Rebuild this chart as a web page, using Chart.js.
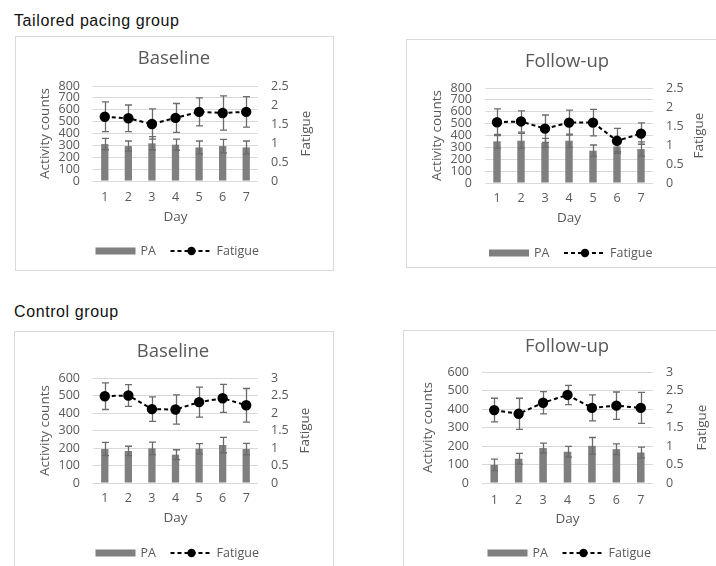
<!DOCTYPE html>
<html lang="en">
<head>
<meta charset="UTF-8">
<script src="https://cdn.jsdelivr.net/npm/chart.js@4.4.1/dist/chart.umd.min.js"></script>
<title>Activity and fatigue</title>
<style>
  html, body { margin: 0; padding: 0; background: #fff; }
  #page { position: relative; width: 716px; height: 566px; overflow: hidden; font-family: "Liberation Sans", Arial, sans-serif; }
  .group { position: absolute; left: 14px; font-size: 16px; line-height: 20px; letter-spacing: 0.6px; color: #111; }
  .frame { position: absolute; border: 1px solid #d9d9d9; box-sizing: border-box; }
  canvas { position: absolute; }
</style>
</head>
<body>
<div id="page">
  <div class="group" style="top:11px">Tailored pacing group</div>
  <div class="group" style="top:302px">Control group</div>

  <div class="frame" style="left:15px;top:36px;width:319px;height:235px"></div>
  <div class="frame" style="left:406px;top:39px;width:330px;height:229px"></div>
  <div class="frame" style="left:14px;top:331px;width:320px;height:260px"></div>
  <div class="frame" style="left:403px;top:330px;width:330px;height:260px"></div>

  <canvas id="c1"></canvas>
  <canvas id="c2"></canvas>
  <canvas id="c3"></canvas>
  <canvas id="c4"></canvas>
</div>

<script>
const days = ['1', '2', '3', '4', '5', '6', '7'];

// tailored pacing group, baseline
const paTailoredBase = [311, 294, 317, 306, 283, 294, 283];
const paTailoredBaseErr = [48, 43, 56, 47, 54, 57, 54];
const fatTailoredBase = [1.69, 1.65, 1.50, 1.66, 1.82, 1.79, 1.82];
const fatTailoredBaseErr = [0.39, 0.35, 0.40, 0.38, 0.37, 0.45, 0.40];

// tailored pacing group, follow-up
const paTailoredFollow = [351, 356, 339, 356, 272, 308, 286];
const paTailoredFollowErr = [58, 62, 37, 56, 48, 45, 60];
const fatTailoredFollow = [1.60, 1.62, 1.43, 1.59, 1.59, 1.11, 1.30];
const fatTailoredFollowErr = [0.35, 0.28, 0.36, 0.33, 0.35, 0.33, 0.28];

// control group, baseline
const paControlBase = [194, 183, 198, 162, 196, 217, 194];
const paControlBaseErr = [38, 27, 36, 28, 29, 44, 33];
const fatControlBase = [2.48, 2.50, 2.11, 2.10, 2.31, 2.42, 2.22];
const fatControlBaseErr = [0.38, 0.31, 0.35, 0.42, 0.43, 0.40, 0.48];

// control group, follow-up
const paControlFollow = [98, 131, 189, 169, 201, 183, 165];
const paControlFollowErr = [31, 29, 27, 29, 45, 29, 29];
const fatControlFollow = [1.97, 1.87, 2.17, 2.38, 2.03, 2.09, 2.03];
const fatControlFollowErr = [0.32, 0.42, 0.30, 0.26, 0.35, 0.37, 0.42];

const grey = '#595959';
const fam = '"Open Sans", "Liberation Sans", sans-serif';

function drawErr(chart, i) {
  const ds = chart.data.datasets[i];
  const meta = chart.getDatasetMeta(i);
  const scale = chart.scales[ds.yAxisID];
  const ctx = chart.ctx;
  ctx.save();
  ctx.strokeStyle = '#6b6b6b';
  ctx.lineWidth = 1.3;
  meta.data.forEach((el, j) => {
    const v = ds.data[j], e = ds.err[j];
    const x = Math.round(el.x) + 0.5;
    const y1 = scale.getPixelForValue(v + e);
    const y2 = scale.getPixelForValue(v - e);
    ctx.beginPath();
    ctx.moveTo(x, y1); ctx.lineTo(x, y2);
    ctx.moveTo(x - 3.5, y1); ctx.lineTo(x + 3.5, y1);
    ctx.moveTo(x - 3.5, y2); ctx.lineTo(x + 3.5, y2);
    ctx.stroke();
  });
  ctx.restore();
}

const errorBars = {
  id: 'errorBars',
  afterDatasetDraw(chart, args) { if (args.index === 0) drawErr(chart, 0); },
  beforeDatasetDraw(chart, args) { if (args.index === 1) drawErr(chart, 1); }
};

// axis titles and the legend, drawn like the Excel originals
const extras = {
  id: 'extras',
  afterDraw(chart, args, o) {
    const {ctx, chartArea: a} = chart;
    const cx = (a.left + a.right) / 2, cy = (a.top + a.bottom) / 2;
    ctx.save();
    ctx.fillStyle = grey;
    ctx.font = '13.5px ' + fam;
    ctx.textAlign = 'center';
    ctx.textBaseline = 'middle';
    ctx.fillText('Day', cx, o.dayY);
    [[o.leftX, 'Activity counts'], [o.rightX, 'Fatigue']].forEach(([x, t]) => {
      ctx.save();
      ctx.translate(x, cy);
      ctx.rotate(-Math.PI / 2);
      ctx.fillText(t, 0, 0);
      ctx.restore();
    });
    // legend
    const ly = o.legendY;
    const sets = chart.data.datasets;
    ctx.fillStyle = '#7f7f7f';
    ctx.fillRect(cx - 80, ly - 3.5, 40, 7);
    ctx.fillStyle = grey;
    ctx.font = '12.5px ' + fam;
    ctx.textAlign = 'left';
    ctx.fillText(sets[0].label, cx - 35, ly);
    ctx.strokeStyle = '#000';
    ctx.lineWidth = 2;
    ctx.setLineDash([4, 3]);
    ctx.beginPath();
    ctx.moveTo(cx - 5, ly); ctx.lineTo(cx + 37, ly);
    ctx.stroke();
    ctx.setLineDash([]);
    ctx.fillStyle = '#000';
    ctx.beginPath();
    ctx.arc(cx + 16, ly, 4.2, 0, Math.PI * 2);
    ctx.fill();
    ctx.fillStyle = grey;
    ctx.fillText(sets[1].label, cx + 41, ly);
    ctx.restore();
  }
};

function makePanel(id, p) {
  const cv = document.getElementById(id);
  const [bx, by, bw, bh] = p.box;
  cv.style.left = bx + 'px';
  cv.style.top = by + 'px';
  cv.width = bw;
  cv.height = bh;
  const titleTop = p.titleY - by - 11.1;
  const titleBottom = p.plot.t - by - titleTop - 22.2;

  new Chart(cv, {
    type: 'bar',
    data: {
      labels: days,
      datasets: [{
        type: 'bar', label: 'PA', data: p.pa, err: p.paErr, yAxisID: 'y',
        backgroundColor: '#7f7f7f', barPercentage: 0.31, categoryPercentage: 1, order: 1
      }, {
        type: 'line', label: 'Fatigue', data: p.fat, err: p.fatErr, yAxisID: 'y1',
        borderColor: '#000', borderWidth: 2, borderDash: [4, 3], tension: 0,
        pointRadius: 4.2, pointBackgroundColor: '#000', pointBorderColor: '#000', order: 0
      }]
    },
    options: {
      responsive: false,
      animation: false,
      layout: { padding: 0 },
      plugins: {
        legend: { display: false },
        tooltip: { enabled: false },
        title: {
          display: true, text: p.title, color: grey,
          font: { family: fam, size: 18.5, weight: 'normal' },
          padding: { top: titleTop, bottom: titleBottom }
        },
        extras: {
          dayY: p.dayY - by, leftX: p.leftX - bx, rightX: p.rightX - bx, legendY: p.legendY - by
        }
      },
      scales: {
        x: {
          offset: true,
          grid: { display: false, drawTicks: false },
          border: { display: false },
          ticks: { color: grey, font: { family: fam, size: 12.5 }, padding: p.xLabY - p.plot.b - 7.5 },
          afterFit: s => { s.height = by + bh - p.plot.b; }
        },
        y: {
          position: 'left', min: 0, max: p.paMax,
          grid: { color: '#d9d9d9', drawTicks: false },
          border: { display: false },
          ticks: { stepSize: 100, autoSkip: false, color: grey, font: { family: fam, size: 12.5 }, padding: 13, callback: v => String(v) },
          afterFit: s => { s.width = p.plot.l - bx; }
        },
        y1: {
          position: 'right', min: 0, max: p.fatMax,
          grid: { display: false, drawTicks: false },
          border: { display: false },
          ticks: { stepSize: 0.5, autoSkip: false, color: grey, font: { family: fam, size: 12.5 }, padding: 13, callback: v => String(+v.toFixed(1)) },
          afterFit: s => { s.width = bx + bw - p.plot.r; }
        }
      }
    },
    plugins: [errorBars, extras]
  });
}

makePanel('c1', {
  box: [15, 36, 318, 234], plot: { l: 93, r: 258, t: 86, b: 181 },
  title: 'Baseline', titleY: 59, xLabY: 197, dayY: 217, legendY: 251, leftX: 45, rightX: 306,
  pa: paTailoredBase, paErr: paTailoredBaseErr, fat: fatTailoredBase, fatErr: fatTailoredBaseErr,
  paMax: 800, fatMax: 2.5
});
makePanel('c2', {
  box: [406, 39, 322, 228], plot: { l: 485, r: 653, t: 88, b: 183 },
  title: 'Follow-up', titleY: 62, xLabY: 198, dayY: 218, legendY: 253, leftX: 437, rightX: 699,
  pa: paTailoredFollow, paErr: paTailoredFollowErr, fat: fatTailoredFollow, fatErr: fatTailoredFollowErr,
  paMax: 800, fatMax: 2.5
});
makePanel('c3', {
  box: [14, 331, 318, 240], plot: { l: 93, r: 258, t: 378, b: 483 },
  title: 'Baseline', titleY: 352, xLabY: 498, dayY: 518, legendY: 553, leftX: 45, rightX: 305,
  pa: paControlBase, paErr: paControlBaseErr, fat: fatControlBase, fatErr: fatControlBaseErr,
  paMax: 600, fatMax: 3
});
makePanel('c4', {
  box: [403, 330, 328, 240], plot: { l: 482, r: 653, t: 372, b: 483 },
  title: 'Follow-up', titleY: 347, xLabY: 500, dayY: 519, legendY: 553, leftX: 428, rightX: 702,
  pa: paControlFollow, paErr: paControlFollowErr, fat: fatControlFollow, fatErr: fatControlFollowErr,
  paMax: 600, fatMax: 3
});
</script>
</body>
</html>
